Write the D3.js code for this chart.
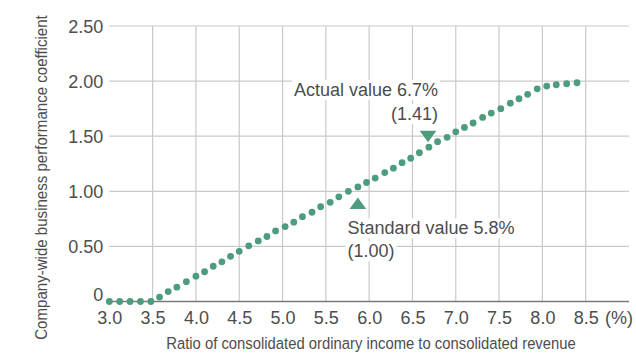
<!DOCTYPE html>
<html>
<head>
<meta charset="utf-8">
<script src="https://cdn.jsdelivr.net/npm/d3@7"></script>
<style>
  html, body { margin: 0; padding: 0; background: #fff; }
  svg { display: block; }
  text { font-family: "Liberation Sans", Arial, Helvetica, sans-serif; }
</style>
</head>
<body>
<svg id="chart" width="636" height="353"></svg>
<script>
// ---- data ----
const ratioValues = [3.00, 3.12, 3.24, 3.36, 3.48, 3.58, 3.68, 3.78, 3.89, 4.00,
  4.10, 4.20, 4.30, 4.40, 4.50, 4.61, 4.72, 4.82, 4.92, 5.03,
  5.13, 5.23, 5.34, 5.44, 5.55, 5.65, 5.76, 5.87, 5.97, 6.07,
  6.18, 6.28, 6.38, 6.48, 6.58, 6.69, 6.79, 6.90, 7.00, 7.10,
  7.20, 7.31, 7.41, 7.52, 7.63, 7.73, 7.83, 7.94, 8.05, 8.16,
  8.28, 8.40];
const coefficientValues = [0, 0, 0, 0, 0, 0.04, 0.09, 0.13, 0.18, 0.23,
  0.27, 0.32, 0.36, 0.41, 0.455, 0.505, 0.55, 0.59, 0.64, 0.68,
  0.72, 0.77, 0.81, 0.86, 0.90, 0.95, 1.00, 1.04, 1.08, 1.12,
  1.17, 1.21, 1.26, 1.30, 1.35, 1.40, 1.45, 1.49, 1.54, 1.58,
  1.62, 1.67, 1.71, 1.75, 1.80, 1.84, 1.88, 1.93, 1.955, 1.967,
  1.976, 1.985];
const xTickValues = [3.0, 3.5, 4.0, 4.5, 5.0, 5.5, 6.0, 6.5, 7.0, 7.5, 8.0, 8.5];
const xTickLabels = ["3.0", "3.5", "4.0", "4.5", "5.0", "5.5", "6.0", "6.5", "7.0", "7.5", "8.0", "8.5"];
const yTickValues = [0, 0.5, 1.0, 1.5, 2.0, 2.5];
const yTickLabels = ["0", "0.50", "1.00", "1.50", "2.00", "2.50"];
const markers = [
  { name: "standard", ratio: 5.87, coef: 0.875, dir: "up", lines: ["Standard value 5.8%", "(1.00)"] },
  { name: "actual", ratio: 6.68, coef: 1.515, dir: "down", lines: ["Actual value 6.7%", "(1.41)"] }
];
const xTitle = "Ratio of consolidated ordinary income to consolidated revenue";
const yTitle = "Company-wide business performance coefficient";
const unitLabel = "(%)";

// ---- layout ----
const svg = d3.select("#chart");
const x = d3.scaleLinear().domain([3, 9]).range([109.3, 629]);
const y = d3.scaleLinear().domain([0, 2.5]).range([301.5, 26]);
const green = "#4e9c7e";
const textColor = "#4d4d4d";

// grid
const grid = svg.append("g");
grid.selectAll("line.h").data(yTickValues.filter(d => d > 0)).join("line")
  .attr("x1", x(3)).attr("x2", x(9))
  .attr("y1", d => y(d)).attr("y2", d => y(d))
  .attr("stroke", "#c9c9c9").attr("stroke-width", 1.2);
grid.selectAll("line.v").data(xTickValues.filter(d => d > 3)).join("line")
  .attr("x1", d => x(d)).attr("x2", d => x(d))
  .attr("y1", y(2.5)).attr("y2", y(0))
  .attr("stroke", "#c9c9c9").attr("stroke-width", 1.2);
grid.append("line")
  .attr("x1", x(3)).attr("x2", x(9))
  .attr("y1", y(0)).attr("y2", y(0))
  .attr("stroke", "#7a7a7a").attr("stroke-width", 1.5);

// axes
const yAxis = svg.append("g")
  .attr("transform", `translate(${x(3)},0)`)
  .call(d3.axisLeft(y).tickValues(yTickValues)
    .tickFormat((d, i) => yTickLabels[i]).tickSize(0).tickPadding(6));
yAxis.select(".domain").remove();
yAxis.selectAll("text").attr("font-size", 18).attr("fill", textColor)
  .attr("font-family", "Liberation Sans, Arial, sans-serif")
  .attr("dy", d => d === 0 ? "-0.05em" : "0.34em");

const xAxis = svg.append("g")
  .attr("transform", `translate(0,${y(0)})`)
  .call(d3.axisBottom(x).tickValues(xTickValues)
    .tickFormat((d, i) => xTickLabels[i]).tickSize(0).tickPadding(9.5));
xAxis.select(".domain").remove();
xAxis.selectAll("text").attr("font-size", 18).attr("fill", textColor)
  .attr("font-family", "Liberation Sans, Arial, sans-serif");

svg.append("text")
  .attr("x", 605).attr("y", 324)
  .attr("font-size", 18).attr("fill", textColor)
  .text(unitLabel);

// titles: fit font size to the target length, then stretch glyph height back
function fittedTitle(str, targetLen, glyphSize, transform) {
  const t = svg.append("text")
    .attr("text-anchor", "middle")
    .attr("fill", textColor)
    .attr("font-size", glyphSize)
    .text(str);
  const natural = t.node().getComputedTextLength();
  const fs = glyphSize * targetLen / natural;
  t.attr("font-size", fs)
   .attr("transform", `${transform} scale(1,${glyphSize / fs})`);
  return t;
}
fittedTitle(xTitle, 410, 17, "translate(371,349)");
fittedTitle(yTitle, 325, 17, "translate(46.5,177.5) rotate(-90)");

// dots
svg.append("g").selectAll("circle")
  .data(ratioValues.map((r, i) => [r, coefficientValues[i]]))
  .join("circle")
  .attr("cx", d => x(d[0])).attr("cy", d => y(d[1]))
  .attr("r", 3.4).attr("fill", green);

// markers
const tri = d3.symbol().type(d3.symbolTriangle).size(95);
markers.forEach(m => {
  svg.append("path")
    .attr("d", tri())
    .attr("transform", `translate(${x(m.ratio)},${y(m.coef)}) ${m.dir === "down" ? "rotate(180)" : ""} scale(1.13,0.9)`)
    .attr("fill", green);
});

// annotation labels
function label(lines, anchor, xPos, baselines) {
  const g = svg.append("g");
  lines.forEach((t, i) => {
    const txt = g.append("text")
      .attr("x", xPos).attr("y", baselines[i])
      .attr("text-anchor", anchor)
      .attr("font-size", 18).attr("fill", textColor)
      .text(t);
    const bb = txt.node().getBBox();
    g.insert("rect", "text")
      .attr("x", bb.x - 2).attr("y", bb.y)
      .attr("width", bb.width + 4).attr("height", bb.height)
      .attr("fill", "#fff");
  });
}
label(markers[1].lines, "end", 438, [96, 120]);
label(markers[0].lines, "start", 347.5, [234.3, 257.3]);
</script>
</body>
</html>
